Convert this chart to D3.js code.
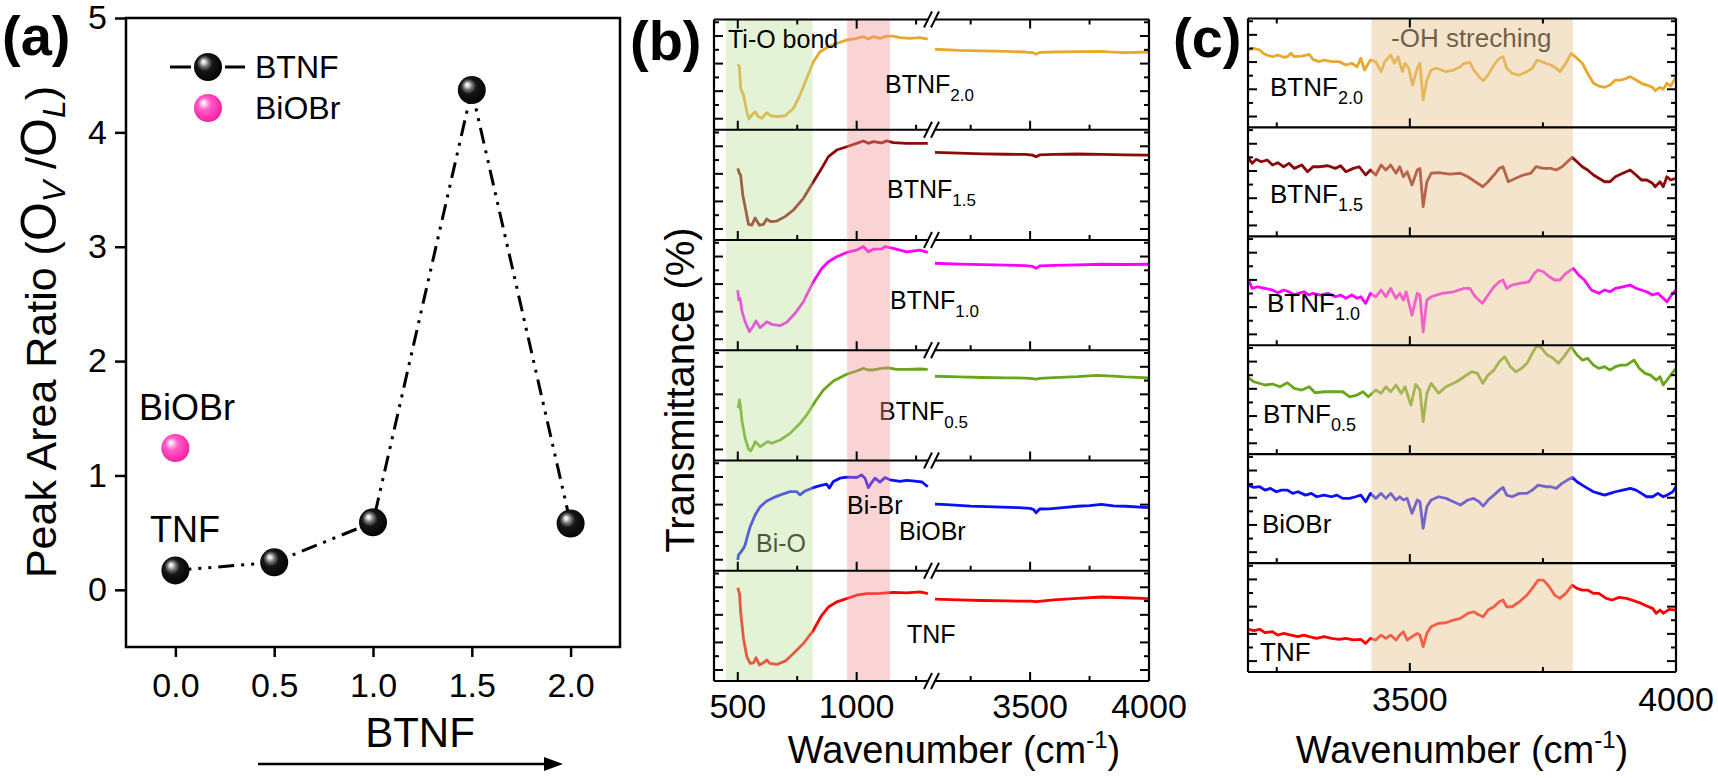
<!DOCTYPE html>
<html>
<head>
<meta charset="utf-8">
<title>Peak area ratio and FTIR spectra</title>
<script src="https://d3js.org/d3.v7.min.js"></script>
<style>
  body { margin: 0; background: #fff; }
  svg text { font-family: "Liberation Sans", Arial, sans-serif; fill: #000; }
</style>
</head>
<body>
<div id="home"></div>
<script>
// ---------- panel (a) data
const ratioX = [0.0, 0.5, 1.0, 1.5, 2.0];
const ratioBTNF = [0.17, 0.24, 0.59, 4.37, 0.58];
const ratioBiOBrX = [0.0];
const ratioBiOBr = [1.24];
const ratioXTicks = [0.0, 0.5, 1.0, 1.5, 2.0];
const ratioYTicks = [0, 1, 2, 3, 4, 5];

// ---------- samples, bottom to top
const sampleNames = ["TNF", "BiOBr", "BTNF", "BTNF", "BTNF", "BTNF"];
const sampleSubs = ["", "", "0.5", "1.0", "1.5", "2.0"];

// ---------- panel (b), low wavenumber part  [cm-1, relative T %]
const lowTNF = [[500,84.6],[507,79.5],[512,62.8],[524,38.6],[538,22],[552,15.9],[566,16.5],[577,21.1],[591,14.5],[608,16.5],[622,19],[636,15.9],[664,15],[699,18],[734,25],[776,34],[818,46],[853,59.6],[881,67.1],[916,71.7],[958,74.7],[1000,77.8],[1042,79.3],[1098,79.5],[1154,80.3],[1210,80],[1266,80.8],[1299,79.3]];
const lowBiOBr = [[500,9.8],[503,14.3],[512,16.7],[524,20.3],[531,23.4],[538,29.4],[552,39.9],[573,50.6],[594,58.1],[622,63.3],[650,66.3],[685,69.3],[720,71.7],[748,71.7],[762,68.8],[783,72.4],[818,75.4],[846,77.2],[874,78.5],[885,75],[902,81],[930,84],[958,85],[1000,84.6],[1021,86.9],[1035,84],[1049,75.4],[1063,80],[1077,84],[1098,80.4],[1119,84.5],[1140,82.5],[1182,81],[1210,82],[1245,81.2],[1275,80.5],[1299,76.2]];
const lowBTNF05 = [[500,47.5],[503,49],[507,54.9],[512,47.5],[518,35.3],[531,20.2],[545,10.4],[554,8.6],[563,12],[574,17.1],[594,12.6],[608,14.5],[626,17.1],[643,15.6],[678,18.6],[720,24.6],[762,33.7],[790,41.3],[825,53.3],[860,63.9],[902,72.1],[958,78.2],[1000,81.2],[1028,83.6],[1049,82.1],[1070,82.1],[1105,83.6],[1133,84],[1168,82.7],[1210,82.7],[1266,83],[1299,82.7]];
const lowBTNF10 = [[500,54.6],[504,45.6],[510,47],[518,35],[531,25.9],[549,16.9],[563,21.3],[577,26.5],[594,20.5],[608,23],[622,25.9],[643,23.5],[678,22.3],[706,25.3],[741,33.5],[776,44],[818,62.2],[853,74.2],[881,80.3],[916,84.8],[958,88.7],[1000,90.8],[1028,94.1],[1049,89.3],[1070,91.7],[1105,92],[1119,93.9],[1154,92.4],[1210,89.3],[1266,90.8],[1299,88.7]];
const lowBTNF15 = [[500,65],[507,60.2],[512,59],[521,40.8],[535,25.7],[545,14.2],[559,13.4],[573,20],[591,13.4],[608,14.2],[622,19],[638,16.6],[664,17.2],[699,21.2],[734,27.2],[776,37.8],[818,52.9],[853,65],[881,75.6],[916,81.6],[958,84.6],[1000,87.7],[1028,89.8],[1049,87.7],[1070,89.2],[1105,88],[1126,89.9],[1154,88.3],[1210,87.7],[1266,87.7],[1299,87.7]];
const lowBTNF20 = [[500,59.4],[507,57.2],[512,37.6],[524,31.5],[538,16.4],[547,9.8],[559,13.4],[573,16.4],[587,11.8],[601,10.4],[622,15.5],[638,12.7],[664,11.8],[699,12.7],[734,19.5],[762,31.5],[790,46.7],[818,61.7],[846,70.8],[881,75.3],[916,78.4],[958,81.4],[1000,82.9],[1028,84.4],[1049,82.3],[1070,84.4],[1098,82.9],[1126,85],[1154,85],[1182,83.5],[1224,82.9],[1266,83.5],[1299,82.3]];

// ---------- panel (b), high wavenumber part
const highTNF = [[3100,74.2],[3200,73.6],[3300,73],[3400,72.6],[3500,72.4],[3525,72],[3600,73.5],[3700,75],[3800,76.2],[3900,75.5],[4000,74.7]];
const highBiOBr = [[3100,60.5],[3150,60],[3250,58.6],[3350,58],[3450,57.3],[3500,56.6],[3515,55.5],[3525,52.6],[3540,56],[3580,56.2],[3650,57.5],[3700,58.5],[3750,59],[3800,60.2],[3850,58.8],[3900,58.5],[4000,57.2]];
const highBTNF05 = [[3100,76.4],[3200,75.8],[3300,75.3],[3400,75],[3480,74.8],[3510,74.3],[3525,73.7],[3540,74.5],[3600,75.2],[3700,76],[3780,77.3],[3850,76.5],[3900,75.8],[4000,75]];
const highBTNF10 = [[3100,78.9],[3200,78.2],[3300,77.6],[3400,77.2],[3480,76.8],[3510,76],[3525,74.4],[3540,76.5],[3600,77],[3700,77.5],[3800,78],[3900,77.8],[4000,78]];
const highBTNF15 = [[3100,79.4],[3200,78.8],[3300,78.2],[3400,77.8],[3480,77.6],[3510,77],[3525,75.5],[3540,77.2],[3600,77.6],[3700,78],[3800,77.6],[3900,77.2],[4000,77]];
const highBTNF20 = [[3100,73],[3200,72],[3300,71.5],[3400,71],[3480,70.5],[3510,70],[3525,68.4],[3540,70.2],[3600,70.5],[3700,70.8],[3800,71],[3850,70.5],[3900,70],[4000,70.5]];

// ---------- panel (c), -OH region
const ohTNF = [[3197,39.2],[3207,37.9],[3218,39.2],[3228,36.1],[3242,37],[3252,33.9],[3263,35.5],[3277,33.9],[3290,32.4],[3301,33.9],[3311,32.4],[3325,30.9],[3339,32.4],[3353,30.9],[3367,30],[3380,30.9],[3394,29.4],[3408,30],[3417,26.3],[3426,30.9],[3436,29.4],[3446,33.9],[3455,30.9],[3464,33.9],[3474,29.4],[3481,33.9],[3488,37],[3495,29.4],[3504,32.4],[3514,35.5],[3519,33.9],[3525,23.2],[3532,35.5],[3540,41.6],[3554,44.7],[3568,45.2],[3582,47.7],[3595,49.3],[3609,53.9],[3620,55.3],[3630,52.3],[3638,50.7],[3647,56.9],[3658,59.9],[3668,64.5],[3675,66.1],[3682,59.9],[3692,59.9],[3706,64.5],[3720,70.6],[3730,76.8],[3741,84.4],[3751,84.4],[3762,78.3],[3772,70.6],[3782,67.6],[3793,72.2],[3805,79.8],[3814,76.8],[3824,75.2],[3834,75.2],[3845,72.2],[3855,72.2],[3869,67.6],[3880,66.1],[3893,68.5],[3907,67.6],[3921,65.4],[3935,63],[3945,60.6],[3956,58.4],[3963,53.9],[3970,56.9],[3976,53.9],[3987,57.5],[4000,56.9]];
const ohBiOBr = [[3197,71.6],[3207,69.5],[3218,70.1],[3228,67],[3238,68.6],[3249,65.5],[3259,67],[3270,67],[3280,64],[3290,65.5],[3304,62.4],[3315,64],[3325,60.9],[3339,62.4],[3353,60.9],[3363,62.4],[3374,59.4],[3387,59.4],[3398,60.9],[3408,62.4],[3417,56.3],[3426,64],[3436,59.4],[3446,64],[3455,59.4],[3464,64],[3474,57.9],[3481,60.9],[3488,57.9],[3495,59.4],[3504,45.6],[3514,57.9],[3519,56.3],[3525,31.9],[3532,51.7],[3540,57.9],[3554,60.9],[3568,59.4],[3582,56.3],[3595,53.3],[3609,57.9],[3620,59.4],[3630,56.3],[3638,52.3],[3647,57.9],[3658,62.4],[3668,67],[3675,69.5],[3682,62.4],[3692,60.9],[3706,64],[3720,64],[3730,67],[3741,71.6],[3755,70.1],[3765,70.1],[3775,68.6],[3786,73.2],[3796,76.2],[3805,78.7],[3814,74.7],[3824,71.6],[3834,68.6],[3845,65.5],[3855,64],[3866,62.4],[3876,64],[3886,65.5],[3900,67],[3914,68.6],[3925,67],[3935,64],[3945,60.9],[3956,60.9],[3966,64],[3976,60.9],[3983,62.4],[3994,65.5],[4000,70.1]];
const ohBTNF05 = [[3197,70],[3207,66.5],[3228,63.5],[3242,64.4],[3256,61.9],[3270,65.6],[3283,60.4],[3297,58.9],[3311,61.9],[3322,56.4],[3339,57.3],[3360,57.3],[3374,57.3],[3387,52.7],[3401,54.3],[3412,57.3],[3422,52.7],[3436,58.9],[3446,55.8],[3455,61.9],[3464,57.3],[3474,63.5],[3484,55.8],[3491,61.9],[3502,45.1],[3511,64],[3519,58.9],[3525,29.8],[3532,55.8],[3540,65],[3554,56.1],[3568,61.9],[3588,66.5],[3602,71.1],[3616,75.7],[3627,74.2],[3637,65],[3647,72.6],[3658,77.2],[3668,84.8],[3678,89.4],[3689,80.3],[3699,75.7],[3710,78.8],[3720,83.4],[3730,92.6],[3739,100],[3748,97.2],[3758,91],[3769,88],[3779,83.4],[3789,89.4],[3803,98.6],[3814,91],[3824,86.4],[3834,88],[3845,81.8],[3855,78.8],[3866,80.3],[3876,77.2],[3886,80.3],[3897,81.8],[3907,81.8],[3921,86.4],[3931,78.8],[3942,74.2],[3952,72.6],[3963,68],[3970,71.1],[3976,63.5],[3983,68],[3990,72.6],[4000,78.8]];
const ohBTNF10 = [[3197,59.9],[3204,52.2],[3214,53.7],[3228,52.2],[3242,50.7],[3252,48.2],[3263,50.7],[3273,49.1],[3283,46.1],[3290,47.7],[3301,49.1],[3311,46.1],[3318,47.7],[3332,46.1],[3346,47.7],[3360,44.5],[3370,46.1],[3380,43.1],[3391,46.1],[3401,43.1],[3408,44.5],[3417,38.5],[3426,47.7],[3436,44.5],[3446,50.7],[3455,44.5],[3464,52.2],[3474,43.1],[3481,47.7],[3488,41.5],[3493,49.1],[3504,27.7],[3514,47.7],[3519,46.1],[3525,12.4],[3532,41.5],[3540,44.5],[3561,47.7],[3582,49.1],[3602,52.2],[3613,52.2],[3623,44.5],[3636,38.5],[3647,46.1],[3658,53.7],[3668,58.3],[3675,59.9],[3682,52.2],[3692,55.3],[3706,56.8],[3724,58.3],[3734,66],[3741,69.1],[3751,67.5],[3762,62.9],[3772,59.9],[3782,59.9],[3793,66],[3807,70.6],[3817,64.5],[3828,59.9],[3841,50.7],[3855,47.7],[3866,50.7],[3876,49.1],[3886,52.2],[3900,53.7],[3914,55.3],[3925,52.2],[3935,50.7],[3945,49.1],[3956,46.1],[3966,47.7],[3976,43.1],[3983,39.9],[3994,47.7],[4000,50.7]];
const ohBTNF15 = [[3197,71.6],[3204,67],[3211,70.7],[3221,68.5],[3232,70.1],[3242,65.5],[3252,67.6],[3263,63.9],[3273,67],[3283,62.4],[3297,65.5],[3308,59.3],[3318,63.9],[3332,63.9],[3346,64.8],[3360,62.4],[3370,64.8],[3380,59.3],[3394,62.4],[3405,63.9],[3417,56.3],[3426,60.9],[3436,56.3],[3446,65.5],[3455,60.9],[3464,65.5],[3474,57.9],[3481,63.9],[3488,54.7],[3495,59.3],[3504,47.1],[3514,60.9],[3519,62.4],[3525,27.2],[3532,50.1],[3540,57.9],[3554,58.4],[3575,57.2],[3595,57.9],[3609,54.7],[3623,50.1],[3637,45.5],[3647,50.1],[3658,56.3],[3668,62.4],[3675,63.9],[3685,50.1],[3699,53.3],[3713,56.3],[3727,57.9],[3737,63.9],[3751,62.4],[3765,62.4],[3775,60.9],[3786,63.9],[3796,68.5],[3805,72.5],[3814,68.5],[3824,63.9],[3834,60.9],[3845,56.3],[3855,53.3],[3866,50.1],[3876,50.1],[3886,54.7],[3900,57.9],[3914,60.9],[3925,56.3],[3935,51.7],[3945,51.7],[3956,48.7],[3961,45.5],[3970,50.1],[3976,45.5],[3983,54.7],[3990,51.7],[4000,53.3]];
const ohBTNF20 = [[3197,71.1],[3207,72.6],[3218,71.1],[3225,68],[3231,66.5],[3242,64.9],[3252,66.5],[3263,64.4],[3270,64.9],[3277,68],[3283,64.9],[3297,65.5],[3311,67.1],[3318,62.5],[3329,60.4],[3339,61.9],[3353,60.4],[3367,60.4],[3380,57.3],[3391,58.9],[3401,55.7],[3408,63.5],[3415,52.7],[3426,61.9],[3436,60.4],[3446,51.2],[3453,60.4],[3464,66.5],[3471,58.9],[3478,64.9],[3486,51.2],[3491,58.9],[3498,54.3],[3505,38.9],[3514,54.3],[3519,58.9],[3525,25.2],[3532,43.5],[3540,52.7],[3550,54.3],[3568,51.2],[3582,52.7],[3595,55.7],[3602,58.9],[3613,59.5],[3620,52.7],[3630,46.6],[3638,42.9],[3647,48.1],[3658,57.3],[3668,63.5],[3675,64.9],[3682,54.3],[3692,49.7],[3706,48.1],[3720,51.2],[3730,54.3],[3739,61.9],[3748,60.4],[3755,58.9],[3765,57.3],[3775,54.3],[3782,51.2],[3793,58.9],[3803,68],[3814,63.5],[3824,58.9],[3834,49.7],[3845,40.5],[3855,38],[3866,36.8],[3876,38.9],[3886,43.5],[3897,43.5],[3907,45.1],[3914,46.6],[3925,43.5],[3935,40.5],[3945,38.9],[3956,36.8],[3961,33.7],[3970,36.8],[3976,35],[3983,40.5],[3990,38],[4000,46]];

// ---------- bands and axis ticks
const bandTiO = [450, 815];
const bandBiBr = [960, 1140];
const bandOH = [3428, 3806];
const lowTicks = [500, 1000], lowMinor = [750, 1250];
const highTicks = [3500, 4000], highMinor = [3250, 3750];
const rowMajor = [10, 35, 60, 85], rowMinor = [22.5, 47.5, 72.5, 97.5];

const lowSeries = [lowTNF, lowBiOBr, lowBTNF05, lowBTNF10, lowBTNF15, lowBTNF20];
const highSeries = [highTNF, highBiOBr, highBTNF05, highBTNF10, highBTNF15, highBTNF20];
const ohSeries = [ohTNF, ohBiOBr, ohBTNF05, ohBTNF10, ohBTNF15, ohBTNF20];
const colors = ["#ff0000", "#0d0dff", "#6aa51c", "#ff00ff", "#8b0a0a", "#e9a82b"];

const W = 1718, H = 778;
const svg = d3.select("#home").append("svg")
  .attr("width", W).attr("height", H)
  .style("background", "#fff");

// shiny sphere markers
const defs = svg.append("defs");
function sphere(id, stops) {
  const g = defs.append("radialGradient").attr("id", id)
    .attr("cx", "45%").attr("cy", "45%").attr("r", "62%")
    .attr("fx", "33%").attr("fy", "30%");
  stops.forEach(s => g.append("stop").attr("offset", s[0]).attr("stop-color", s[1]));
}
sphere("ballBlack", [[0, "#fff"], [0.1, "#e0e0e0"], [0.25, "#777"], [0.45, "#161616"], [1, "#000"]]);
sphere("ballPink", [[0, "#fff"], [0.12, "#ffd2ee"], [0.35, "#ff62c8"], [0.7, "#ff36b2"], [1, "#ec1c9c"]]);

function addText(g, x, y, size, txt) {
  return g.append("text").attr("x", x).attr("y", y).attr("font-size", size).text(txt);
}
function labelSub(g, x, y, main, sub, size, subSize) {
  const t = g.append("text").attr("x", x).attr("y", y).attr("font-size", size);
  t.append("tspan").text(main);
  if (sub) t.append("tspan").attr("font-size", subSize).attr("dy", 8).text(sub);
  return t;
}
function wavenumberTitle(cx) {
  const t = svg.append("text").attr("x", cx).attr("y", 763)
    .attr("font-size", 38).attr("text-anchor", "middle");
  t.append("tspan").text("Wavenumber (cm");
  t.append("tspan").attr("font-size", 24).attr("dy", -15).text("-1");
  t.append("tspan").attr("dy", 15).text(")");
}

// ================= panel (a)
const ax = d3.scaleLinear().domain([-0.25, 2.25]).range([126, 620]);
const ay = d3.scaleLinear().domain([-0.5, 5]).range([647, 18]);
const ga = svg.append("g");

ga.append("g").attr("transform", `translate(0,${ay(-0.5)})`)
  .call(d3.axisBottom(ax).tickValues(ratioXTicks).tickFormat(d3.format(".1f")).tickSize(10).tickSizeOuter(0))
  .call(g => g.select(".domain").remove())
  .call(g => g.selectAll("line").attr("stroke-width", 2.5))
  .call(g => g.selectAll("text").attr("y", 50).attr("dy", 0).attr("font-size", 34).attr("font-family", null));
ga.append("g").attr("transform", `translate(${ax(-0.25)},0)`)
  .call(d3.axisLeft(ay).tickValues(ratioYTicks).tickFormat(d3.format("d")).tickSize(11).tickPadding(8).tickSizeOuter(0))
  .call(g => g.select(".domain").remove())
  .call(g => g.selectAll("line").attr("stroke-width", 2.5))
  .call(g => g.selectAll("text").attr("font-size", 34).attr("font-family", null));
ga.append("rect").attr("x", ax(-0.25)).attr("y", ay(5))
  .attr("width", ax(2.25) - ax(-0.25)).attr("height", ay(-0.5) - ay(5))
  .attr("fill", "none").attr("stroke", "#000").attr("stroke-width", 2.5);

const dash = "16,7,3,7,3,7";
ga.append("path")
  .datum(ratioX.map((x, i) => [x, ratioBTNF[i]]))
  .attr("d", d3.line().x(d => ax(d[0])).y(d => ay(d[1])))
  .attr("fill", "none").attr("stroke", "#000").attr("stroke-width", 3)
  .attr("stroke-dasharray", dash);
ga.selectAll("circle.btnf").data(ratioX).enter().append("circle")
  .attr("class", "btnf")
  .attr("cx", d => ax(d)).attr("cy", (d, i) => ay(ratioBTNF[i])).attr("r", 14)
  .attr("fill", "url(#ballBlack)");
ga.selectAll("circle.biobr").data(ratioBiOBrX).enter().append("circle")
  .attr("class", "biobr")
  .attr("cx", d => ax(d)).attr("cy", (d, i) => ay(ratioBiOBr[i])).attr("r", 14)
  .attr("fill", "url(#ballPink)");

addText(ga, 139, 420, 36, "BiOBr");
addText(ga, 150, 542, 36, "TNF");

// legend
ga.append("line").attr("x1", 170).attr("x2", 191).attr("y1", 67).attr("y2", 67).attr("stroke", "#000").attr("stroke-width", 3);
ga.append("line").attr("x1", 225).attr("x2", 245).attr("y1", 67).attr("y2", 67).attr("stroke", "#000").attr("stroke-width", 3);
ga.append("circle").attr("cx", 208).attr("cy", 67).attr("r", 14).attr("fill", "url(#ballBlack)");
ga.append("circle").attr("cx", 208).attr("cy", 108).attr("r", 14).attr("fill", "url(#ballPink)");
addText(ga, 255, 78, 32, "BTNF");
addText(ga, 255, 119, 32, "BiOBr");

// axis titles (a)
const yt = ga.append("text").attr("transform", "translate(56,332) rotate(-90)")
  .attr("text-anchor", "middle").attr("font-size", 43);
yt.append("tspan").text("Peak Area Ratio (");
yt.append("tspan").attr("font-size", 50).text("O");
yt.append("tspan").attr("font-size", 32).attr("font-style", "italic").attr("dy", 9).text("V");
yt.append("tspan").attr("dy", -9).text(" /");
yt.append("tspan").attr("font-size", 50).text("O");
yt.append("tspan").attr("font-size", 32).attr("font-style", "italic").attr("dy", 9).text("L");
yt.append("tspan").attr("dy", -9).text(")");
ga.append("text").attr("x", 420).attr("y", 747).attr("font-size", 42)
  .attr("text-anchor", "middle").text("BTNF");
ga.append("line").attr("x1", 258).attr("x2", 548).attr("y1", 764).attr("y2", 764)
  .attr("stroke", "#000").attr("stroke-width", 2.5);
ga.append("path").attr("d", "M563,764 L544,757 L544,771 Z").attr("fill", "#000");

// ================= stacked spectra helper
function stack(opt) {
  const g = svg.append("g");
  const rows = d3.scaleBand().domain(d3.range(sampleNames.length)).range([opt.bot, opt.top]);
  const bw = rows.bandwidth();
  const rowY = i => d3.scaleLinear().domain([0, 100]).range([rows(i) + bw, rows(i)]);
  const xL = opt.parts[0].x.range()[0];
  const xR = opt.parts[opt.parts.length - 1].x.range()[1];

  opt.parts.forEach(p => {
    p.series.forEach((s, i) => {
      const y = rowY(i);
      g.append("path").datum(s)
        .attr("d", d3.line().x(d => p.x(d[0])).y(d => y(d[1])))
        .attr("fill", "none").attr("stroke", colors[i])
        .attr("stroke-width", 2.8).attr("stroke-linejoin", "round");
    });
  });

  if (opt.under) opt.under(g);

  opt.bands.forEach(b => {
    g.append("rect").attr("x", b.x(b.r[0])).attr("y", opt.top)
      .attr("width", b.x(b.r[1]) - b.x(b.r[0])).attr("height", opt.bot - opt.top)
      .attr("fill", b.fill).attr("fill-opacity", b.op);
  });

  // frame
  const lines = d3.range(sampleNames.length + 1).map(i => i < sampleNames.length ? rows(i) + bw : opt.top);
  lines.forEach(y => g.append("line").attr("x1", xL).attr("x2", xR).attr("y1", y).attr("y2", y)
    .attr("stroke", "#000").attr("stroke-width", 2.2));
  [xL, xR].forEach(x => g.append("line").attr("x1", x).attr("x2", x).attr("y1", opt.top).attr("y2", opt.bot)
    .attr("stroke", "#000").attr("stroke-width", 2.2));

  // y ticks on both sides of every row
  d3.range(sampleNames.length).forEach(i => {
    const y = rowY(i);
    [[rowMajor, 9], [rowMinor, 5]].forEach(([vals, len]) => vals.forEach(v => {
      g.append("line").attr("x1", xL).attr("x2", xL + len).attr("y1", y(v)).attr("y2", y(v))
        .attr("stroke", "#000").attr("stroke-width", 2);
      g.append("line").attr("x1", xR).attr("x2", xR - len).attr("y1", y(v)).attr("y2", y(v))
        .attr("stroke", "#000").attr("stroke-width", 2);
    }));
  });

  // x ticks under every row, plus the top edge
  opt.parts.forEach(p => {
    [[p.major, 9], [p.minor, 5]].forEach(([vals, len]) => vals.forEach(v => {
      const x = p.x(v);
      d3.range(sampleNames.length).forEach(i => {
        const yb = rows(i) + bw;
        g.append("line").attr("x1", x).attr("x2", x).attr("y1", yb).attr("y2", yb - len)
          .attr("stroke", "#000").attr("stroke-width", 2);
      });
      g.append("line").attr("x1", x).attr("x2", x).attr("y1", opt.top).attr("y2", opt.top + len)
        .attr("stroke", "#000").attr("stroke-width", 2);
    }));
    p.major.forEach(v => {
      g.append("text").attr("x", p.x(v)).attr("y", opt.bot + opt.labelGap)
        .attr("font-size", 34).attr("text-anchor", "middle").text(v);
    });
  });

  // axis break marks
  if (opt.breakX) {
    lines.forEach(y => {
      g.append("rect").attr("x", opt.breakX - 3).attr("y", y - 3).attr("width", 6).attr("height", 6).attr("fill", "#fff");
      [-3.5, 3.5].forEach(o => g.append("line")
        .attr("x1", opt.breakX + o - 4).attr("y1", y + 8)
        .attr("x2", opt.breakX + o + 4).attr("y2", y - 8)
        .attr("stroke", "#000").attr("stroke-width", 2));
    });
  }
  return g;
}

// ================= panel (b)
const bLow = d3.scaleLinear().domain([400, 1300]).range([714, 928]);
const bHigh = d3.scaleLinear().domain([3100, 4000]).range([935, 1149]);
const gb = stack({
  top: 19.5, bot: 681, labelGap: 37, breakX: 931.5,
  parts: [
    { x: bLow, series: lowSeries, major: lowTicks, minor: lowMinor },
    { x: bHigh, series: highSeries, major: highTicks, minor: highMinor }
  ],
  bands: [
    { x: bLow, r: bandTiO, fill: "#bbe196", op: 0.4 },
    { x: bLow, r: bandBiBr, fill: "#f29393", op: 0.4 }
  ],
  under: g => {
    labelSub(g, 879, 420, sampleNames[2], sampleSubs[2], 25, 17).attr("fill", "#444");
    addText(g, 756, 552, 25, "Bi-O");
  }
});
const bLabelPos = [[907, 643], [899, 540], null, [890, 309], [887, 197.5], [885, 93]];
bLabelPos.forEach((p, i) => { if (p) labelSub(gb, p[0], p[1], sampleNames[i], sampleSubs[i], 25, 17); });
addText(gb, 728, 48, 25, "Ti-O bond");
addText(gb, 847, 514, 25, "Bi-Br");
svg.append("text").attr("transform", "translate(694,390) rotate(-90)")
  .attr("text-anchor", "middle").attr("font-size", 40).text("Transmittance (%)");
wavenumberTitle(954);

// ================= panel (c)
const cX = d3.scaleLinear().domain([3196, 4000]).range([1248, 1676]);
const gc = stack({
  top: 18.5, bot: 672, labelGap: 39,
  parts: [{ x: cX, series: ohSeries, major: highTicks, minor: highMinor }],
  bands: [{ x: cX, r: bandOH, fill: "#e5c692", op: 0.48 }],
  under: g => { addText(g, 1391, 47, 26, "-OH streching"); }
});
const cLabelPos = [[1260, 661], [1262, 533], [1263, 423], [1267, 312], [1270, 203], [1270, 96]];
cLabelPos.forEach((p, i) => labelSub(gc, p[0], p[1], sampleNames[i], sampleSubs[i], 26, 18));
wavenumberTitle(1462);

// ================= panel letters
[["(a)", 2, 55], ["(b)", 630, 60], ["(c)", 1173, 57]].forEach(d => {
  svg.append("text").attr("x", d[1]).attr("y", d[2]).attr("font-size", 56)
    .attr("font-weight", "bold").text(d[0]);
});
</script>
</body>
</html>
